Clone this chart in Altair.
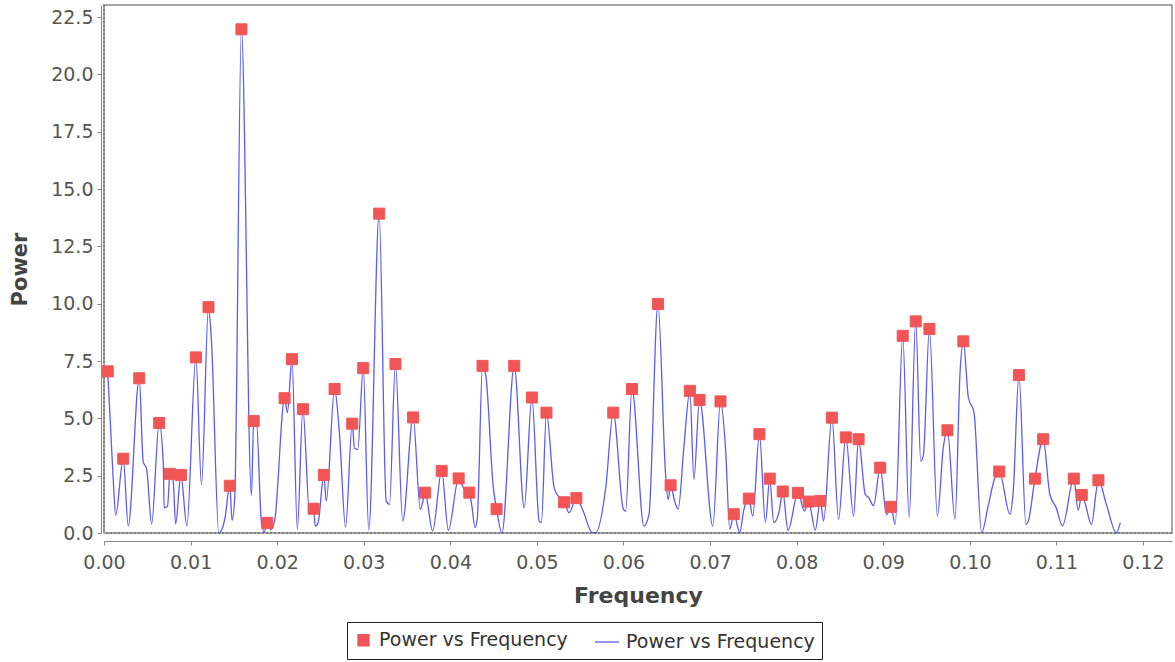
import altair as alt
import pandas as pd

# ---- data (frequency, power) ----
line_freq = [
    0.00043, 0.00104, 0.00135, 0.00222, 0.00280, 0.00407, 0.00453, 0.00492, 0.00550, 0.00637,
    0.00684, 0.00695, 0.00734, 0.00761, 0.00799, 0.00827, 0.00888, 0.00957, 0.01061, 0.01126,
    0.01207, 0.01241, 0.01326, 0.01395, 0.01453, 0.01479, 0.01510, 0.01587, 0.01703, 0.01729,
    0.01760, 0.01818, 0.01850, 0.01887, 0.01925, 0.01971, 0.02086, 0.02118, 0.02171, 0.02233,
    0.02297, 0.02375, 0.02421, 0.02440, 0.02473, 0.02539, 0.02567, 0.02663, 0.02720, 0.02790,
    0.02867, 0.02893, 0.02931, 0.02994, 0.03058, 0.03178, 0.03259, 0.03297, 0.03366, 0.03450,
    0.03570, 0.03654, 0.03677, 0.03708, 0.03796, 0.03900, 0.03977, 0.04096, 0.04161, 0.04219,
    0.04248, 0.04285, 0.04311, 0.04372, 0.04409, 0.04496, 0.04534, 0.04596, 0.04738, 0.04853,
    0.04942, 0.05026, 0.05052, 0.05110, 0.05199, 0.05268, 0.05314, 0.05372, 0.05456, 0.05525,
    0.05640, 0.05680, 0.05795, 0.05882, 0.05998, 0.06025, 0.06098, 0.06236, 0.06294, 0.06398,
    0.06486, 0.06516, 0.06544, 0.06590, 0.06632, 0.06697, 0.06767, 0.06813, 0.06878, 0.07032,
    0.07120, 0.07178, 0.07228, 0.07274, 0.07343, 0.07389, 0.07447, 0.07493, 0.07570, 0.07639,
    0.07689, 0.07735, 0.07801, 0.07839, 0.07900, 0.08015, 0.08089, 0.08138, 0.08215, 0.08273,
    0.08311, 0.08407, 0.08484, 0.08568, 0.08657, 0.08715, 0.08792, 0.08830, 0.08888, 0.08965,
    0.09037, 0.09087, 0.09138, 0.09225, 0.09299, 0.09375, 0.09433, 0.09464, 0.09533, 0.09625,
    0.09694, 0.09741, 0.09829, 0.09887, 0.09925, 0.09983, 0.10048, 0.10136, 0.10213, 0.10290,
    0.10340, 0.10463, 0.10501, 0.10567, 0.10648, 0.10674, 0.10752, 0.10847, 0.10924, 0.10997,
    0.11070, 0.11201, 0.11251, 0.11293, 0.11331, 0.11404, 0.11485, 0.11577, 0.11692, 0.11738,
]
line_power = [
    7.05, 2.50, 0.78, 3.24, 0.31, 6.75, 3.10, 2.80, 0.39, 4.80,
    3.10, 1.10, 1.17, 2.58, 2.27, 0.39, 2.53, 0.31, 7.66, 2.11,
    9.85, 8.40, 0.00, 0.60, 2.06, 0.55, 1.56, 21.97, 1.64, 4.88,
    4.88, 0.47, 0.05, 0.44, 0.15, 0.54, 5.88, 5.25, 7.58, 0.16,
    5.40, 0.81, 1.06, 0.30, 0.45, 2.53, 1.40, 6.28, 4.30, 0.26,
    4.77, 3.70, 3.65, 7.19, 0.12, 13.93, 1.40, 1.25, 7.37, 0.52,
    5.04, 1.03, 1.30, 1.76, 0.09, 2.71, 0.12, 2.38, 1.90, 1.76,
    1.20, 0.24, 0.60, 7.29, 6.90, 2.00, 1.04, 0.00, 7.29, 1.10,
    5.91, 0.52, 0.45, 5.25, 1.97, 1.50, 1.34, 0.89, 1.52, 1.05,
    0.02, 0.02, 1.98, 5.25, 1.04, 0.95, 6.28, 0.30, 0.80, 9.99,
    2.56, 1.45, 2.08, 1.40, 1.04, 3.73, 6.20, 2.34, 5.80, 0.30,
    5.74, 3.73, 0.16, 0.82, 0.02, 1.00, 1.50, 0.74, 4.31, 0.45,
    2.37, 0.45, 1.00, 1.81, 0.12, 1.75, 0.96, 1.37, 0.12, 1.40,
    0.52, 5.03, 0.60, 4.17, 0.74, 4.09, 1.69, 1.55, 1.20, 2.85,
    0.80, 1.14, 0.38, 8.60, 0.67, 9.23, 3.14, 3.40, 8.90, 0.74,
    3.74, 4.48, 0.60, 7.00, 8.36, 5.91, 5.26, 0.01, 1.20, 2.42,
    2.68, 0.82, 1.80, 6.89, 0.38, 0.50, 2.37, 4.09, 1.69, 1.11,
    0.31, 2.37, 0.99, 1.66, 1.30, 0.38, 2.30, 1.25, 0.01, 0.45,
]

peak_freq = [
    0.00043, 0.00222, 0.00407, 0.00637, 0.00761, 0.00888, 0.01061, 0.01207, 0.01453, 0.01587,
    0.01729, 0.01887, 0.02086, 0.02171, 0.02297, 0.02421, 0.02539, 0.02663, 0.02867, 0.02994,
    0.03178, 0.03366, 0.03570, 0.03708, 0.03900, 0.04096, 0.04219, 0.04372, 0.04534, 0.04738,
    0.04942, 0.05110, 0.05314, 0.05456, 0.05882, 0.06098, 0.06398, 0.06544, 0.06767, 0.06878,
    0.07120, 0.07274, 0.07447, 0.07570, 0.07689, 0.07839, 0.08015, 0.08138, 0.08273, 0.08407,
    0.08568, 0.08715, 0.08965, 0.09087, 0.09225, 0.09375, 0.09533, 0.09741, 0.09925, 0.10340,
    0.10567, 0.10752, 0.10847, 0.11201, 0.11293, 0.11485,
]
peak_power = [
    7.05, 3.24, 6.75, 4.80, 2.58, 2.53, 7.66, 9.85, 2.06, 21.97,
    4.88, 0.44, 5.88, 7.58, 5.40, 1.06, 2.53, 6.28, 4.77, 7.19,
    13.93, 7.37, 5.04, 1.76, 2.71, 2.38, 1.76, 7.29, 1.04, 7.29,
    5.91, 5.25, 1.34, 1.52, 5.25, 6.28, 9.99, 2.08, 6.20, 5.80,
    5.74, 0.82, 1.50, 4.31, 2.37, 1.81, 1.75, 1.37, 1.40, 5.03,
    4.17, 4.09, 2.85, 1.14, 8.60, 9.23, 8.90, 4.48, 8.36, 2.68,
    6.89, 2.37, 4.09, 2.37, 1.66, 2.30,
]

x_ticks = [0.00, 0.01, 0.02, 0.03, 0.04, 0.05, 0.06, 0.07, 0.08, 0.09, 0.10, 0.11, 0.12]
y_ticks = [0.0, 2.5, 5.0, 7.5, 10.0, 12.5, 15.0, 17.5, 20.0, 22.5]

S_POINT = "Power vs Frequency"
S_LINE = "Power vs Frequency "   # same text, distinct legend entry
legend_series = [S_POINT, S_LINE]
RED = "#f25555"
BLUE = "#5b5bf5"

line_df = pd.DataFrame({"freq": line_freq, "power": line_power})
peak_df = pd.DataFrame({"freq": peak_freq, "power": peak_power, "series": S_POINT})
zero_df = pd.DataFrame({"zero": [0.0]})

FONT = "DejaVu Sans"

xscale = alt.Scale(domain=[0, 0.12335], nice=False, zero=False)
yscale = alt.Scale(domain=[0, 23.03], nice=False, zero=False)
cscale = alt.Scale(domain=legend_series, range=[RED, BLUE])
shscale = alt.Scale(domain=legend_series, range=["square", "stroke"])
szscale = alt.Scale(domain=legend_series, range=[121, 576])

xaxis = alt.Axis(
    title="Frequency", values=x_ticks, format=".2f", offset=8, grid=False,
    domainColor="#888888", tickColor="#888888", tickSize=4, labelFlush=False,
    labelFont=FONT, labelFontSize=19, labelColor="#555555", labelPadding=8,
    titleFont=FONT, titleFontSize=22, titleFontWeight="bold", titleColor="#444444",
    titlePadding=13,
)
yaxis = alt.Axis(
    title="Power", values=y_ticks, format=".1f", offset=3, grid=False,
    domainColor="#888888", tickColor="#888888", tickSize=4, labelFlush=False,
    labelFont=FONT, labelFontSize=19, labelColor="#555555", labelPadding=4,
    titleFont=FONT, titleFontSize=21, titleFontWeight="bold", titleColor="#444444",
    titlePadding=20,
)

legend = alt.Legend(
    title=None, orient="none", legendX=243, legendY=617, direction="horizontal",
    strokeColor="#222222", fillColor="#ffffff", padding=7, cornerRadius=0,
    labelFont=FONT, labelFontSize=19, labelColor="#333333", labelOffset=6,
    labelLimit=400, columnPadding=24,
    symbolFillColor=RED, symbolStrokeWidth=1.3, symbolOpacity=1,
)

line = alt.Chart(line_df).mark_line(
    color=BLUE, strokeWidth=1.3, interpolate="monotone"
).encode(
    x=alt.X("freq:Q", scale=xscale, axis=xaxis),
    y=alt.Y("power:Q", scale=yscale, axis=yaxis),
    order=alt.Order("freq:Q"),
)

points = alt.Chart(peak_df).mark_point(
    shape="square", filled=False, fill=RED, fillOpacity=1, opacity=1, strokeWidth=1
).encode(
    x=alt.X("freq:Q", scale=xscale),
    y=alt.Y("power:Q", scale=yscale),
    color=alt.Color("series:N", scale=cscale, legend=legend),
    shape=alt.Shape("series:N", scale=shscale, legend=legend),
    size=alt.Size("series:N", scale=szscale, legend=legend),
)

vzero = alt.Chart(zero_df).mark_rule(color="#555555", strokeDash=[2, 2], strokeWidth=1).encode(
    x=alt.X("zero:Q", scale=xscale)
)
hzero = alt.Chart(zero_df).mark_rule(color="#555555", strokeDash=[2, 2], strokeWidth=1).encode(
    y=alt.Y("zero:Q", scale=yscale)
)

chart = alt.layer(line, vzero, hzero, points).properties(
    width=1068, height=528,
    autosize=alt.AutoSizeParams(type="none"),
    padding={"left": 104, "top": 5, "right": 3, "bottom": 129},
    background="#ffffff",
).configure_view(
    stroke="#8a8a8a", strokeWidth=1.5,
)

chart.save("out.html", embed_options={"renderer": "svg", "actions": False})
